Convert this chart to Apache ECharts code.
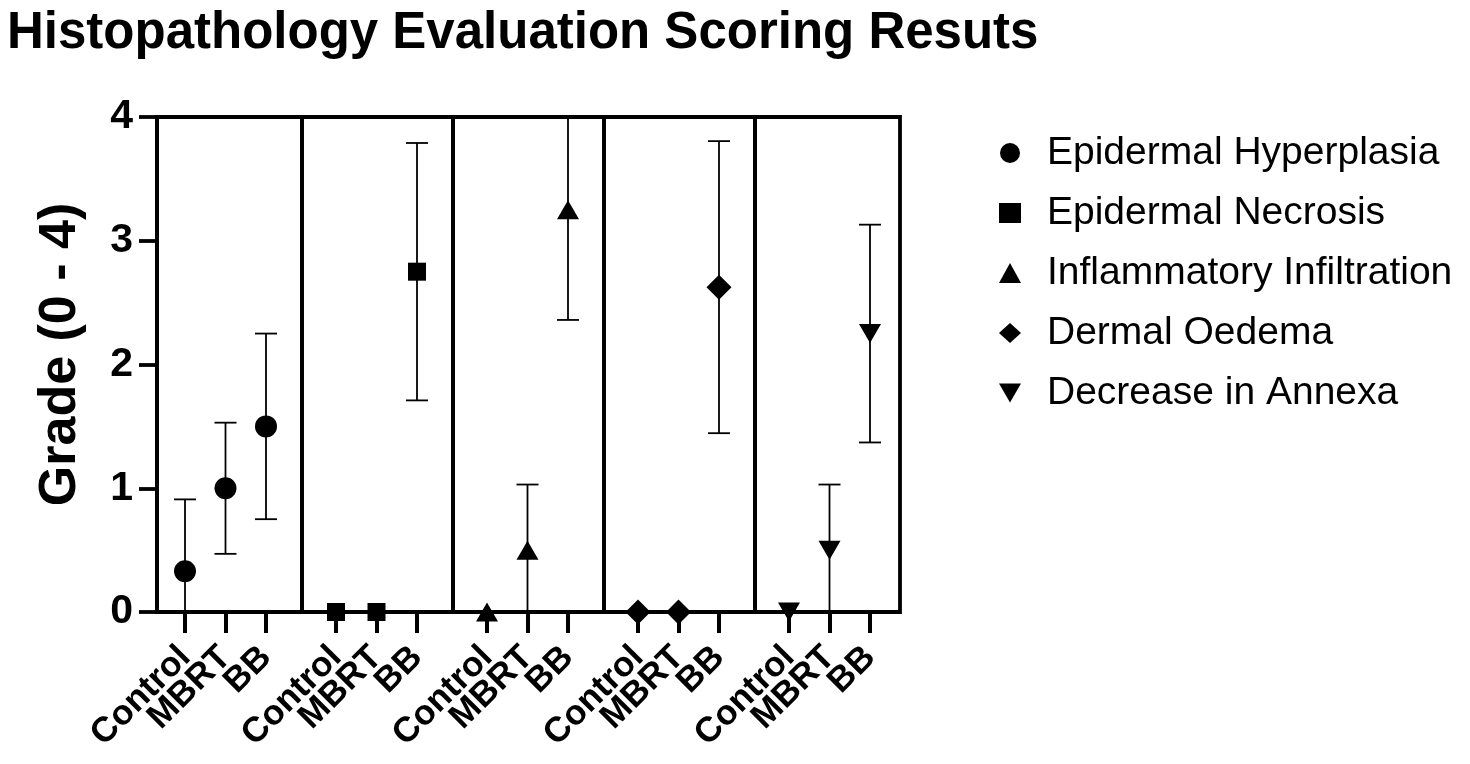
<!DOCTYPE html>
<html>
<head>
<meta charset="utf-8">
<script src="https://cdn.jsdelivr.net/npm/echarts@6/dist/echarts.min.js"></script>
<style>
html,body{margin:0;padding:0;background:#fff;}
#chart{width:1470px;height:764px;}
</style>
</head>
<body>
<div id="chart"></div>
<script>
// ---- data ----
const titleText = 'Histopathology Evaluation Scoring Resuts';
const yAxisName = 'Grade (0 - 4)';
const categories = ['Control', 'MBRT', 'BB'];
const seriesNames = ['Epidermal Hyperplasia', 'Epidermal Necrosis', 'Inflammatory Infiltration', 'Dermal Oedema', 'Decrease in Annexa'];
const hyperplasiaMean = [0.33, 1.0, 1.5];
const hyperplasiaSD = [0.58, 0.53, 0.75];
const necrosisMean = [0, 0, 2.75];
const necrosisSD = [0, 0, 1.04];
const inflammatoryMean = [0, 0.5, 3.25];
const inflammatorySD = [0, 0.53, 0.89];
const oedemaMean = [0, 0, 2.625];
const oedemaSD = [0, 0, 1.18];
const annexaMean = [0, 0.5, 2.25];
const annexaSD = [0, 0.53, 0.88];
const yMin = 0, yMax = 4, yInterval = 1;

// ---- styling / layout ----
const means = [hyperplasiaMean, necrosisMean, inflammatoryMean, oedemaMean, annexaMean];
const sds = [hyperplasiaSD, necrosisSD, inflammatorySD, oedemaSD, annexaSD];
const symbols = ['circle', 'rect', 'triangle', 'diamond', 'triangle'];
const symbolSizes = [22, 18, [22, 19], [25, 25], [22, 19]];
const symbolRotates = [0, 0, 0, 0, 180];
const legendIcons = ['circle', 'rect', 'triangle', 'diamond', 'path://M0,0L22,0L11,19Z'];
const FONT = 'Liberation Sans, Arial, Helvetica, sans-serif';
const frameEdges = [157, 302, 453, 604, 755, 900];
const TOP = 117, BOTTOM = 764 - 612;
const BAND = 40.5, GROUP_STEP = 151, FIRST_TICK = 185;

const grids = [], xAxes = [], yAxes = [], series = [];

// frame grids (borders and the y axis)
for (let g = 0; g < 5; g++) {
  grids.push({
    left: frameEdges[g], width: frameEdges[g + 1] - frameEdges[g], top: TOP, bottom: BOTTOM,
    show: true, borderColor: '#000', borderWidth: 3.8, backgroundColor: 'transparent', containLabel: false
  });
  xAxes.push({ type: 'value', gridIndex: g, show: false, min: 0, max: 1 });
  yAxes.push({
    type: 'value', gridIndex: g, min: yMin, max: yMax, interval: yInterval,
    show: g === 0,
    name: g === 0 ? yAxisName : '',
    nameLocation: 'middle', nameRotate: 90, nameGap: 70,
    nameTextStyle: { fontFamily: FONT, fontWeight: 'bold', fontSize: 52, color: '#000', padding: [0, 0, 0, 20] },
    axisLine: { show: true, lineStyle: { color: '#000', width: 3.8 } },
    axisTick: { show: true, length: 18, lineStyle: { color: '#000', width: 3.8 } },
    axisLabel: { margin: 24, fontFamily: FONT, fontWeight: 'bold', fontSize: 41, color: '#000' },
    splitLine: { show: false }
  });
}
// data grids
for (let g = 0; g < 5; g++) {
  const gi = 5 + g;
  grids.push({
    left: FIRST_TICK - BAND / 2 + GROUP_STEP * g, width: BAND * 3, top: TOP, bottom: BOTTOM,
    show: false, containLabel: false
  });
  xAxes.push({
    type: 'category', gridIndex: gi, data: categories, boundaryGap: true,
    axisLine: { show: false },
    axisTick: { show: true, alignWithLabel: true, length: 21, lineStyle: { color: '#000', width: 4 } },
    axisLabel: { interval: 0, rotate: 45, margin: 40, padding: [14, 0, 0, 0], fontFamily: FONT, fontWeight: 'bold', fontSize: 35, color: '#000' },
    splitLine: { show: false }
  });
  yAxes.push({ type: 'value', gridIndex: gi, min: yMin, max: yMax, interval: yInterval, show: false });

  const errData = categories.map((c, i) => [c, means[g][i], sds[g][i]]);
  series.push({
    type: 'custom', name: seriesNames[g] + ' SD', xAxisIndex: gi, yAxisIndex: gi, z: 4, clip: false,
    encode: { x: 0, y: 1 },
    data: errData,
    renderItem: function (params, api) {
      const sd = api.value(2);
      if (!sd) return { type: 'group', children: [] };
      const x = api.value(0), m = api.value(1);
      const hi = m + sd, lo = m - sd;
      const hiC = Math.min(hi, yMax), loC = Math.max(lo, yMin);
      const pHi = api.coord([x, hiC]), pLo = api.coord([x, loC]);
      const cap = 11;
      const st = { stroke: '#000', lineWidth: 1.8 };
      const children = [{ type: 'line', shape: { x1: pHi[0], y1: pHi[1], x2: pLo[0], y2: pLo[1] }, style: st }];
      if (hi <= yMax) children.push({ type: 'line', shape: { x1: pHi[0] - cap, y1: pHi[1], x2: pHi[0] + cap, y2: pHi[1] }, style: st });
      if (lo >= yMin) children.push({ type: 'line', shape: { x1: pLo[0] - cap, y1: pLo[1], x2: pLo[0] + cap, y2: pLo[1] }, style: st });
      return { type: 'group', children: children };
    }
  });
  series.push({
    type: 'scatter', name: seriesNames[g], xAxisIndex: gi, yAxisIndex: gi, z: 6, clip: false,
    symbol: symbols[g], symbolSize: symbolSizes[g], symbolRotate: symbolRotates[g],
    itemStyle: { color: '#000', opacity: 1 },
    data: categories.map((c, i) => [c, means[g][i]])
  });
}

const chart = echarts.init(document.getElementById('chart'));
chart.setOption({
  backgroundColor: '#fff',
  animation: false,
  title: {
    text: titleText, left: 2, top: 3,
    textStyle: { fontFamily: FONT, fontWeight: 'bold', fontSize: 51, color: '#000' }
  },
  legend: {
    orient: 'vertical', left: 994, top: 128, itemGap: 20,
    itemWidth: 22, itemHeight: 20,
    data: seriesNames.map((n, i) => ({ name: n, icon: legendIcons[i] })),
    selectedMode: false,
    textStyle: { fontFamily: FONT, fontSize: 39, color: '#000', lineHeight: 40, padding: [0, 0, 0, 21] }
  },
  grid: grids,
  xAxis: xAxes,
  yAxis: yAxes,
  series: series
});
</script>
</body>
</html>
